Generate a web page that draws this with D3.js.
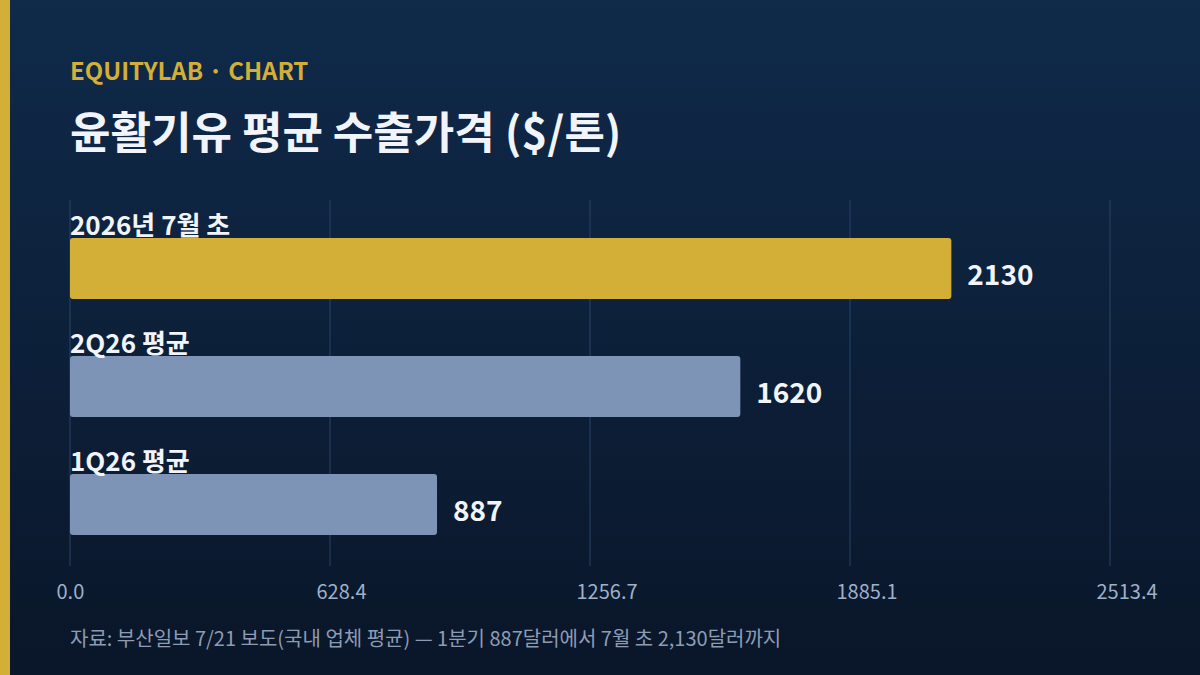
<!DOCTYPE html>
<html>
<head>
<meta charset="utf-8">
<script src="https://cdn.jsdelivr.net/npm/d3@7"></script>
<style>
  body { margin: 0; background: #0b1a30; }
  svg { display: block; font-family: "Noto Sans CJK KR", "Noto Sans", sans-serif; }
</style>
</head>
<body>
<svg id="chart" width="1200" height="675"></svg>
<script>
const categories = ["2026년 7월 초", "2Q26 평균", "1Q26 평균"];
const values = [2130, 1620, 887];
const barColors = ["#d4af37", "#7d94b6", "#7d94b6"];
const tickValues = [0, 628.4, 1256.7, 1885.1, 2513.4];

const svg = d3.select("#chart");
const W = 1200, H = 675;

// background gradient
const defs = svg.append("defs");
const grad = defs.append("linearGradient").attr("id", "bg")
  .attr("x1", 0).attr("y1", 0).attr("x2", 0).attr("y2", 1);
grad.append("stop").attr("offset", "0%").attr("stop-color", "#0f2a4a");
grad.append("stop").attr("offset", "100%").attr("stop-color", "#0a1629");
svg.append("rect").attr("width", W).attr("height", H).attr("fill", "url(#bg)");
svg.append("rect").attr("width", 10).attr("height", H).attr("fill", "#d4af37");

svg.append("text").attr("x", 70).attr("y", 80)
  .attr("fill", "#d4af37").attr("font-size", 24).attr("font-weight", 700)
  .text("EQUITYLAB · CHART");
svg.append("text").attr("x", 70).attr("y", 149)
  .attr("fill", "#f1f4fa").attr("font-size", 44).attr("font-weight", 700)
  .text("윤활기유 평균 수출가격 ($/톤)");

const x = d3.scaleLinear().domain([0, 2513.4]).range([70, 1110]);
const y = d3.scaleBand().domain(categories).range([238, 535])
  .paddingInner(0.483).paddingOuter(0);

// grid
svg.append("g").selectAll("line").data(tickValues).join("line")
  .attr("x1", d => x(d)).attr("x2", d => x(d))
  .attr("y1", 200).attr("y2", 566)
  .attr("stroke", "#2a4468").attr("stroke-width", 1);

// axis labels
const axis = svg.append("g").attr("transform", "translate(0,566)")
  .call(d3.axisBottom(x).tickValues(tickValues).tickFormat(d3.format(".1f")).tickSize(0).tickPadding(19));
axis.select(".domain").remove();
axis.selectAll("text").attr("fill", "#9fb0c9").attr("font-size", 20)
  .attr("text-anchor", "start").attr("x", -14)
  .attr("font-family", "\"Noto Sans CJK KR\", sans-serif");

// bars
svg.append("g").selectAll("rect").data(values).join("rect")
  .attr("x", x(0)).attr("y", (d, i) => y(categories[i]))
  .attr("width", d => x(d) - x(0)).attr("height", y.bandwidth())
  .attr("rx", 3).attr("fill", (d, i) => barColors[i]);

svg.append("g").selectAll("text").data(categories).join("text")
  .attr("x", 70).attr("y", d => y(d) - 3)
  .attr("fill", "#f1f4fa").attr("font-size", 26).attr("font-weight", 700)
  .text(d => d);

svg.append("g").selectAll("text").data(values).join("text")
  .attr("x", d => x(d) + 16).attr("y", (d, i) => y(categories[i]) + y.bandwidth() / 2)
  .attr("dy", "0.6em")
  .attr("fill", "#f1f4fa").attr("font-size", 28).attr("font-weight", 700)
  .text(d => d);

svg.append("text").attr("x", 70).attr("y", 646)
  .attr("fill", "#8d9cb4").attr("font-size", 20)
  .text("자료: 부산일보 7/21 보도(국내 업체 평균) — 1분기 887달러에서 7월 초 2,130달러까지");
</script>
</body>
</html>
